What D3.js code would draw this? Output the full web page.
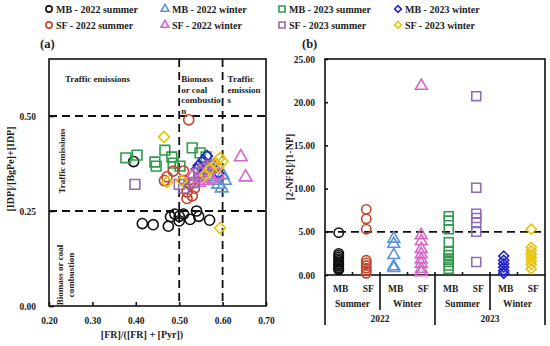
<!DOCTYPE html>
<html>
<head>
<meta charset="utf-8">
<script src="https://cdn.jsdelivr.net/npm/d3@7"></script>
<style>
  body { margin: 0; background: #fff; }
  svg text { font-family: "Liberation Serif", "DejaVu Serif", serif; font-weight: bold; fill: #222; }
</style>
</head>
<body>
<div id="chart"></div>
<script>
// series definitions (legend order)
const seriesNames = ['MB - 2022 summer', 'MB - 2022 winter', 'MB - 2023 summer', 'MB - 2023 winter',
                     'SF - 2022 summer', 'SF - 2022  winter', 'SF - 2023 summer', 'SF - 2023 winter'];
const seriesColors = ['#111111', '#5b95d8', '#2f9c4c', '#2323c8', '#c2452c', '#d866c6', '#8f6cb6', '#e8c200'];
const seriesShapes = ['circle', 'triangle', 'square', 'diamond', 'circle', 'triangle', 'square', 'diamond'];

// panel (a): [FR]/([FR]+[Pyr]) vs [IDP]/[BgPe]+[IDP]
const aMB22S = [[0.395,0.38],[0.415,0.217],[0.44,0.214],[0.475,0.21],[0.48,0.235],[0.49,0.242],[0.50,0.236],
                [0.50,0.224],[0.51,0.242],[0.525,0.228],[0.54,0.25],[0.545,0.236],[0.57,0.226]];
const aSF22S = [[0.522,0.49],[0.472,0.34],[0.486,0.355],[0.466,0.33],[0.51,0.33],[0.525,0.32],[0.518,0.30],
                [0.53,0.29],[0.518,0.283],[0.535,0.31],[0.545,0.34],[0.51,0.355]];
const aMB22W = [[0.598,0.31],[0.59,0.32],[0.58,0.33],[0.60,0.345],[0.57,0.34],[0.605,0.33]];
const aSF22W = [[0.642,0.392],[0.653,0.339],[0.59,0.345],[0.575,0.335],[0.56,0.33],[0.545,0.325],[0.53,0.34],
                [0.55,0.35],[0.565,0.36],[0.58,0.37]];
const aMB23S = [[0.377,0.39],[0.403,0.397],[0.444,0.379],[0.447,0.368],[0.467,0.41],[0.483,0.392],[0.486,0.376],
                [0.502,0.368],[0.53,0.416],[0.548,0.403],[0.562,0.392]];
const aSF23S = [[0.398,0.32],[0.50,0.32],[0.51,0.31],[0.535,0.325],[0.545,0.35],[0.555,0.36],[0.57,0.37]];
const aMB23W = [[0.564,0.395],[0.555,0.383],[0.545,0.37],[0.54,0.36],[0.58,0.36],[0.59,0.35]];
const aSF23W = [[0.465,0.445],[0.594,0.205],[0.472,0.326],[0.506,0.33],[0.594,0.39],[0.585,0.375],[0.57,0.36],
                [0.60,0.38],[0.56,0.345],[0.59,0.365]];
const aSeries = [aMB22S, aMB22W, aMB23S, aMB23W, aSF22S, aSF22W, aSF23S, aSF23W];
const aXTicks = [0.2, 0.3, 0.4, 0.5, 0.6, 0.7];
const aYTicks = [0, 0.25, 0.5];

// panel (b): [2-NFR]/[1-NP] by site / season / year
const bCategories = ['MB22S', 'SF22S', 'MB22W', 'SF22W', 'MB23S', 'SF23S', 'MB23W', 'SF23W'];
const bSite = ['MB', 'SF', 'MB', 'SF', 'MB', 'SF', 'MB', 'SF'];
const bSeason = ['Summer', 'Winter', 'Summer', 'Winter'];
const bYear = ['2022', '2023'];
const bMB22S = [4.9, 2.5, 2.3, 2.1, 1.9, 1.7, 1.5, 1.3, 1.2, 1.0, 0.8, 0.7, 0.6];
const bSF22S = [7.6, 6.5, 5.3, 1.7, 1.4, 1.1, 0.8, 0.5, 0.2];
const bMB22W = [4.2, 3.6, 2.3, 1.0, 0.8];
const bSF22W = [21.9, 4.6, 3.9, 3.0, 2.4, 1.8, 1.3, 0.7, 0.3];
const bMB23S = [6.8, 6.3, 5.3, 3.8, 2.7, 2.3, 1.9, 1.5, 1.1, 0.7];
const bSF23S = [20.7, 10.1, 7.1, 6.6, 6.1, 5.0, 1.5];
const bMB23W = [2.2, 1.7, 1.3, 0.9, 0.5, 0.2];
const bSF23W = [5.3, 3.2, 2.8, 2.4, 2.0, 1.6, 1.2, 0.7];
const bValues = [bMB22S, bSF22S, bMB22W, bSF22W, bMB23S, bSF23S, bMB23W, bSF23W];
const bSeriesIdx = [0, 4, 1, 5, 2, 6, 3, 7]; // map category -> series style
const bYTicks = [0, 5, 10, 15, 20, 25];

const W = 550, H = 346;
const svg = d3.select('#chart').append('svg').attr('width', W).attr('height', H);

function marker(sel, shape, size) {
  if (shape === 'diamond') {
    return sel.attr('d', d3.symbol(d3.symbolSquare, size * 0.62)()).attr('data-rot', 45);
  }
  const t = {circle: d3.symbolCircle, triangle: d3.symbolTriangle, square: d3.symbolSquare}[shape];
  const s = shape === 'triangle' ? size * 0.75 : (shape === 'circle' ? size * 0.85 : size);
  return sel.attr('d', d3.symbol(t, s)());
}
function place(sel, fx, fy) {
  sel.attr('transform', function(d) {
    const r = d3.select(this).attr('data-rot');
    return `translate(${fx(d)},${fy(d)})` + (r ? ` rotate(${r})` : '');
  });
}

// <editor-fold desc="Legend">
const legX = [49, 165, 282, 398];
const legY = [9, 25];
seriesNames.forEach((name, i) => {
  const col = i % 4, row = Math.floor(i / 4);
  const g = svg.append('g');
  g.append('path').datum(0)
    .call(marker, seriesShapes[i], 36)
    .attr('fill', 'none').attr('stroke', seriesColors[i]).attr('stroke-width', 1.6)
    .call(place, () => legX[col], () => legY[row]);
  g.append('text').attr('x', legX[col] + 7).attr('y', legY[row] + 3.5)
    .attr('font-size', 10).text(name);
});
svg.append('text').attr('x', 40).attr('y', 48).attr('font-size', 12.5).text('(a)');
svg.append('text').attr('x', 302).attr('y', 48).attr('font-size', 12.5).text('(b)');
// </editor-fold>

// <editor-fold desc="Panel (a)">
const xA = d3.scaleLinear().domain([0.2, 0.7]).range([49, 266]);
const yA = d3.scaleLinear().domain([0, 0.65]).range([306, 59]);
const pa = svg.append('g');

pa.append('rect').attr('x', xA(0.2)).attr('y', yA(0.65))
  .attr('width', xA(0.7) - xA(0.2)).attr('height', yA(0) - yA(0.65))
  .attr('fill', 'none').attr('stroke', '#111').attr('stroke-width', 1.6);

pa.append('g').attr('transform', `translate(0,${yA(0)})`)
  .call(d3.axisBottom(xA).tickValues(aXTicks).tickFormat(d3.format('.2f')).tickSizeInner(-4).tickSizeOuter(0).tickPadding(11))
  .call(g => g.select('.domain').remove())
  .call(g => g.selectAll('line').attr('stroke', '#111').attr('stroke-width', 1.6))
  .call(g => g.selectAll('text').attr('font-size', 9.5).attr('font-family', null).style('fill', '#222'));
pa.append('g').attr('transform', `translate(${xA(0.2)},0)`)
  .call(d3.axisLeft(yA).tickValues(aYTicks).tickFormat(d3.format('.2f')).tickSizeInner(-5).tickSizeOuter(0).tickPadding(13))
  .call(g => g.select('.domain').remove())
  .call(g => g.selectAll('line').attr('stroke', '#111').attr('stroke-width', 1.6))
  .call(g => g.selectAll('text').attr('font-size', 9.5).attr('font-family', null).style('fill', '#222'));

// reference dashed lines
[0.25, 0.5].forEach(v => pa.append('line').attr('x1', xA(0.2)).attr('x2', xA(0.7)).attr('y1', yA(v)).attr('y2', yA(v))
  .attr('stroke', '#111').attr('stroke-width', 1.8).attr('stroke-dasharray', '8,5'));
[0.5, 0.6].forEach(v => pa.append('line').attr('x1', xA(v)).attr('x2', xA(v)).attr('y1', yA(0.65)).attr('y2', yA(0))
  .attr('stroke', '#111').attr('stroke-width', 1.8).attr('stroke-dasharray', '8,5'));

// zone annotations
const ann = pa.append('g').attr('font-size', 9);
ann.append('text').attr('x', 65).attr('y', 82).text('Traffic emissions');
['Biomass', 'or coal', 'combustio', 'n'].forEach((t, i) =>
  ann.append('text').attr('x', xA(0.5) + 2).attr('y', 82 + i * 10.5).text(t));
['Traffic', 'emission', 's'].forEach((t, i) =>
  ann.append('text').attr('x', xA(0.6) + 5).attr('y', 82 + i * 10.5).text(t));
ann.append('text').attr('transform', 'translate(65,161) rotate(-90)').attr('text-anchor', 'middle').text('Traffic emissions');
ann.append('text').attr('transform', 'translate(63,275) rotate(-90)').attr('text-anchor', 'middle').text('Biomass or coal');
ann.append('text').attr('transform', 'translate(74,275) rotate(-90)').attr('text-anchor', 'middle').text('combustion');

// points
aSeries.forEach((data, i) => {
  pa.append('g').selectAll('path').data(data).join('path')
    .call(marker, seriesShapes[i], 95)
    .attr('fill', 'none').attr('stroke', seriesColors[i]).attr('stroke-width', 1.6)
    .call(place, d => xA(d[0]), d => yA(d[1]));
});

pa.append('text').attr('x', 142).attr('y', 338).attr('text-anchor', 'middle').attr('font-size', 10)
  .text('[FR]/([FR] + [Pyr])');
pa.append('text').attr('transform', 'translate(14,169) rotate(-90)').attr('text-anchor', 'middle').attr('font-size', 10)
  .text('[IDP]/[BgPe]+[IDP]');
// </editor-fold>

// <editor-fold desc="Panel (b)">
const xB = d3.scaleBand().domain(bCategories).range([325, 545]);
const yB = d3.scaleLinear().domain([0, 25]).range([275, 59]);
const pb = svg.append('g');

pb.append('rect').attr('x', 325).attr('y', yB(25))
  .attr('width', 545 - 325).attr('height', yB(0) - yB(25))
  .attr('fill', 'none').attr('stroke', '#111').attr('stroke-width', 1.6);
pb.append('g').attr('transform', 'translate(325,0)')
  .call(d3.axisLeft(yB).tickValues(bYTicks).tickFormat(d3.format('.2f')).tickSizeInner(-3).tickSizeOuter(0).tickPadding(10))
  .call(g => g.select('.domain').remove())
  .call(g => g.selectAll('line').attr('stroke', '#111').attr('stroke-width', 1.6))
  .call(g => g.selectAll('text').attr('font-size', 9.5).attr('font-family', null).style('fill', '#222'));

// category boundary ticks on the baseline
bCategories.slice(1).forEach(c => pb.append('line').attr('x1', xB(c)).attr('x2', xB(c))
  .attr('y1', yB(0)).attr('y2', yB(0) - 3).attr('stroke', '#111').attr('stroke-width', 1.6));

// grouped axis
const bw = xB.bandwidth();
bCategories.forEach((c, i) => pb.append('text').attr('x', xB(c) + bw / 2 + 2).attr('y', 292)
  .attr('text-anchor', 'middle').attr('font-size', 9.5).text(bSite[i]));
bSeason.forEach((s, i) => pb.append('text').attr('x', xB(bCategories[i * 2]) + bw).attr('y', 307)
  .attr('text-anchor', 'middle').attr('font-size', 9.5).text(s));
bYear.forEach((y, i) => pb.append('text').attr('x', xB(bCategories[i * 4]) + bw * 2).attr('y', 322)
  .attr('text-anchor', 'middle').attr('font-size', 9.5).text(y));
[325, xB(bCategories[4]), 545].forEach(x => pb.append('line').attr('x1', x).attr('x2', x)
  .attr('y1', yB(0)).attr('y2', 325).attr('stroke', '#111').attr('stroke-width', 1.6));
[xB(bCategories[2]), xB(bCategories[6])].forEach(x => pb.append('line').attr('x1', x).attr('x2', x)
  .attr('y1', yB(0)).attr('y2', 310).attr('stroke', '#111').attr('stroke-width', 1.6));

pb.append('line').attr('x1', 325).attr('x2', 545).attr('y1', yB(5)).attr('y2', yB(5))
  .attr('stroke', '#111').attr('stroke-width', 1.8).attr('stroke-dasharray', '8,5');

bValues.forEach((vals, i) => {
  const s = bSeriesIdx[i];
  pb.append('g').selectAll('path').data(vals).join('path')
    .call(marker, seriesShapes[s], 80)
    .attr('fill', 'none').attr('stroke', seriesColors[s]).attr('stroke-width', 1.6)
    .call(place, () => xB(bCategories[i]) + bw / 2, d => yB(d));
});

pb.append('text').attr('transform', 'translate(293,167) rotate(-90)').attr('text-anchor', 'middle').attr('font-size', 10)
  .text('[2-NFR]/[1-NP]');
// </editor-fold>
</script>
</body>
</html>
